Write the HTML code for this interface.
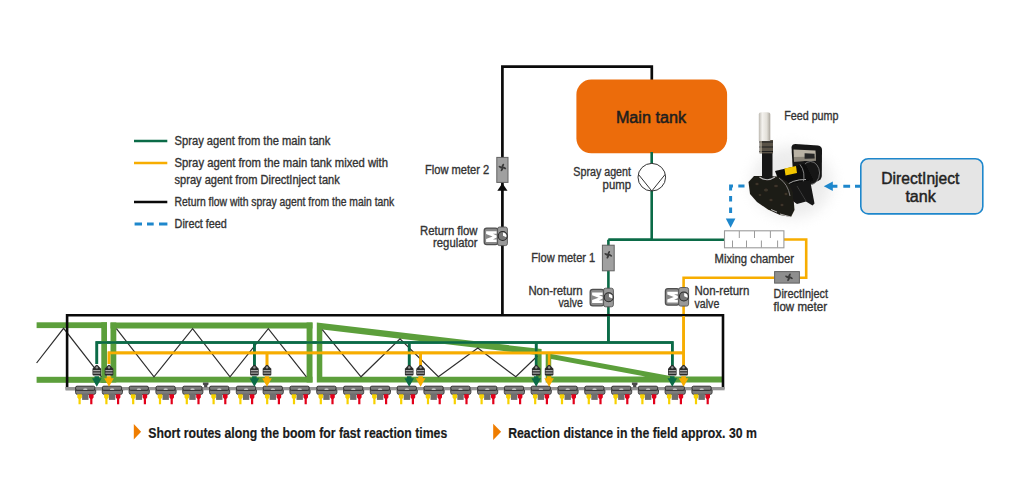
<!DOCTYPE html><html><head><meta charset="utf-8"><style>html,body{margin:0;padding:0;background:#fff;width:1024px;height:488px;overflow:hidden}svg{display:block}</style></head><body>
<svg width="1024" height="488" viewBox="0 0 1024 488" style="font-family:'Liberation Sans',sans-serif">
<defs><filter id="blur6" x="-50%" y="-50%" width="200%" height="200%"><feGaussianBlur stdDeviation="7"/></filter><filter id="blur1" x="-20%" y="-20%" width="140%" height="140%"><feGaussianBlur stdDeviation="0.6"/></filter><linearGradient id="tube" x1="0" x2="1"><stop offset="0" stop-color="#bcb8b0"/><stop offset="0.3" stop-color="#f4f2ee"/><stop offset="0.7" stop-color="#e2dfd8"/><stop offset="1" stop-color="#aaa59c"/></linearGradient></defs>
<line x1="134" y1="141" x2="167.3" y2="141" stroke="#0b6b47" stroke-width="2.6"/>
<line x1="134" y1="163" x2="167.3" y2="163" stroke="#f7ad00" stroke-width="2.6"/>
<line x1="134" y1="202" x2="167.3" y2="202" stroke="#0a0a0a" stroke-width="2.6"/>
<path d="M134.6 224 H142 M147 224 H153.7 M159 224 H167.4" stroke="#1e87cc" stroke-width="3"/>
<text x="174.60" y="145.3" font-size="12.1" font-weight="normal" fill="#333333" stroke="#333333" stroke-width="0.35" text-anchor="start" textLength="155.80" lengthAdjust="spacingAndGlyphs">Spray agent from the main tank</text>
<text x="174.60" y="167.2" font-size="12.1" font-weight="normal" fill="#333333" stroke="#333333" stroke-width="0.35" text-anchor="start" textLength="213.40" lengthAdjust="spacingAndGlyphs">Spray agent from the main tank mixed with</text>
<text x="174.60" y="184.1" font-size="12.1" font-weight="normal" fill="#333333" stroke="#333333" stroke-width="0.35" text-anchor="start" textLength="165.10" lengthAdjust="spacingAndGlyphs">spray agent from DirectInject tank</text>
<text x="174.60" y="206.3" font-size="12.1" font-weight="normal" fill="#333333" stroke="#333333" stroke-width="0.35" text-anchor="start" textLength="219.70" lengthAdjust="spacingAndGlyphs">Return flow with spray agent from the main tank</text>
<text x="174.60" y="228.2" font-size="12.1" font-weight="normal" fill="#333333" stroke="#333333" stroke-width="0.35" text-anchor="start" textLength="52.30" lengthAdjust="spacingAndGlyphs">Direct feed</text>
<path d="M502.4 316 V66.7 H651.8 V82" fill="none" stroke="#0a0a0a" stroke-width="2.7"/>
<rect x="496.8" y="157.4" width="11.2" height="25" fill="#a0a0a0" stroke="#626262" stroke-width="1"/><g transform="translate(502.40000000000003 167.5)" fill="#3a3a3a"><ellipse cx="1.9" cy="-0.6" rx="2.1" ry="0.95" transform="rotate(-60)"/><ellipse cx="1.9" cy="-0.6" rx="2.1" ry="0.95" transform="rotate(30)"/><ellipse cx="1.9" cy="-0.6" rx="2.1" ry="0.95" transform="rotate(120)"/><ellipse cx="1.9" cy="-0.6" rx="2.1" ry="0.95" transform="rotate(210)"/><circle r="0.9"/></g>
<path d="M502.4 183.2 L507.5 190.8 L497.3 190.8 Z" fill="#0a0a0a"/>
<g><rect x="484.2" y="228.10000000000002" width="13.8" height="16.6" rx="2.6" fill="#8a8a8a" stroke="#505050" stroke-width="1.3"/><path d="M486.09999999999997 231.20000000000002 H496.59999999999997 V233.70000000000002 H492.9 L496.59999999999997 235.60000000000002 V237.4 L492.9 239.4 H496.59999999999997 V241.9 H486.09999999999997 V238.9 L492.59999999999997 236.5 L486.09999999999997 234.10000000000002 Z" fill="#ffffff"/><rect x="497.59999999999997" y="227.0" width="9.8" height="18.6" rx="2" fill="#999" stroke="#555" stroke-width="0.9"/><circle cx="502.7" cy="236.0" r="4.5" fill="#777" stroke="#2a2a2a" stroke-width="1.1"/><path d="M503.0 235.8 L503.0 232.5 A3.6 3.6 0 0 1 506.29999999999995 237.3 Z" fill="#fff"/></g>
<text x="489.30" y="173.6" font-size="12.5" font-weight="normal" fill="#333333" stroke="#333333" stroke-width="0.35" text-anchor="end" textLength="64.30" lengthAdjust="spacingAndGlyphs">Flow meter 2</text>
<text x="477.60" y="234.5" font-size="12.5" font-weight="normal" fill="#333333" stroke="#333333" stroke-width="0.35" text-anchor="end" textLength="57.50" lengthAdjust="spacingAndGlyphs">Return flow</text>
<text x="477.60" y="246.8" font-size="12.5" font-weight="normal" fill="#333333" stroke="#333333" stroke-width="0.35" text-anchor="end" textLength="44.50" lengthAdjust="spacingAndGlyphs">regulator</text>
<rect x="576.4" y="79.5" width="150.7" height="73.8" rx="15" fill="#ec6c0b"/>
<text x="615.90" y="122.5" font-size="15.8" font-weight="normal" fill="#1e1e1e" stroke="#1e1e1e" stroke-width="0.5" text-anchor="start" textLength="70.10" lengthAdjust="spacingAndGlyphs">Main tank</text>
<path d="M651.7 152 V164 M651.7 190.5 V239.8 M608.4 239.8 H724.5 M608.4 239.8 V342.5 M96.8 364 V342.5 H672.3 V366 M254.4 342.5 V366 M409.2 342.5 V366 M536.2 342.5 V366" fill="none" stroke="#0b6b47" stroke-width="2.6"/>
<path d="M608.4 239.8 H651.7" fill="none" stroke="#0b6b47" stroke-width="2.6"/>
<circle cx="651.8" cy="177.2" r="13.8" fill="#fff" stroke="#333" stroke-width="1"/>
<path d="M638.6 174.6 L651.8 191 L665 174.6" fill="none" stroke="#333" stroke-width="1"/>
<text x="631.00" y="175.6" font-size="12.5" font-weight="normal" fill="#333333" stroke="#333333" stroke-width="0.35" text-anchor="end" textLength="57.70" lengthAdjust="spacingAndGlyphs">Spray agent</text>
<text x="631.00" y="188.5" font-size="12.5" font-weight="normal" fill="#333333" stroke="#333333" stroke-width="0.35" text-anchor="end" textLength="28.40" lengthAdjust="spacingAndGlyphs">pump</text>
<rect x="602.4" y="245.2" width="11.8" height="25.6" fill="#a0a0a0" stroke="#626262" stroke-width="1"/><g transform="translate(608.3 254.8)" fill="#3a3a3a"><ellipse cx="1.9" cy="-0.6" rx="2.1" ry="0.95" transform="rotate(-60)"/><ellipse cx="1.9" cy="-0.6" rx="2.1" ry="0.95" transform="rotate(30)"/><ellipse cx="1.9" cy="-0.6" rx="2.1" ry="0.95" transform="rotate(120)"/><ellipse cx="1.9" cy="-0.6" rx="2.1" ry="0.95" transform="rotate(210)"/><circle r="0.9"/></g>
<text x="595.20" y="262.3" font-size="12.5" font-weight="normal" fill="#333333" stroke="#333333" stroke-width="0.35" text-anchor="end" textLength="63.90" lengthAdjust="spacingAndGlyphs">Flow meter 1</text>
<g><rect x="590.1999999999999" y="289.3" width="13.8" height="16.6" rx="2.6" fill="#8a8a8a" stroke="#505050" stroke-width="1.3"/><path d="M592.1 292.4 H602.6 V294.9 H598.9 L602.6 296.8 V298.6 L598.9 300.6 H602.6 V303.1 H592.1 V300.1 L598.6 297.7 L592.1 295.3 Z" fill="#ffffff"/><rect x="603.6" y="288.2" width="9.8" height="18.6" rx="2" fill="#999" stroke="#555" stroke-width="0.9"/><circle cx="608.6999999999999" cy="297.2" r="4.5" fill="#777" stroke="#2a2a2a" stroke-width="1.1"/><path d="M609.0 297.0 L609.0 293.7 A3.6 3.6 0 0 1 612.3 298.5 Z" fill="#fff"/></g>
<text x="582.70" y="295.4" font-size="12.5" font-weight="normal" fill="#333333" stroke="#333333" stroke-width="0.35" text-anchor="end" textLength="54.30" lengthAdjust="spacingAndGlyphs">Non-return</text>
<text x="582.70" y="307.4" font-size="12.5" font-weight="normal" fill="#333333" stroke="#333333" stroke-width="0.35" text-anchor="end" textLength="24.30" lengthAdjust="spacingAndGlyphs">valve</text>
<path d="M784 239.5 H806.2 V277.7 H799.6 M774.2 277.7 H683.6 V366 M109 364 V352.9 H683.6 M267 352.9 V366 M420.6 352.9 V366 M549.1 352.9 V366" fill="none" stroke="#f7ad00" stroke-width="2.6"/>
<rect x="724.5" y="230.8" width="59.4" height="17" fill="#fff" stroke="#9a9a9a" stroke-width="1.1"/>
<path d="M739.3 231 V238 M754.5 231 V238 M770.4 231 V238 M732.5 247.6 V240.5 M746.5 247.6 V240.5 M761.4 247.6 V240.5 M777.6 247.6 V240.5" stroke="#9a9a9a" stroke-width="1"/>
<text x="714.50" y="262.9" font-size="12.5" font-weight="normal" fill="#333333" stroke="#333333" stroke-width="0.35" text-anchor="start" textLength="79.50" lengthAdjust="spacingAndGlyphs">Mixing chamber</text>
<rect x="774.6" y="271.6" width="24.8" height="11.5" fill="#8e8e8e" stroke="#626262" stroke-width="1"/><g transform="translate(789 277.35)" fill="#3a3a3a"><ellipse cx="1.9" cy="-0.6" rx="2.1" ry="0.95" transform="rotate(-60)"/><ellipse cx="1.9" cy="-0.6" rx="2.1" ry="0.95" transform="rotate(30)"/><ellipse cx="1.9" cy="-0.6" rx="2.1" ry="0.95" transform="rotate(120)"/><ellipse cx="1.9" cy="-0.6" rx="2.1" ry="0.95" transform="rotate(210)"/><circle r="0.9"/></g>
<text x="773.60" y="298.3" font-size="12.5" font-weight="normal" fill="#333333" stroke="#333333" stroke-width="0.35" text-anchor="start" textLength="54.40" lengthAdjust="spacingAndGlyphs">DirectInject</text>
<text x="773.60" y="310.8" font-size="12.5" font-weight="normal" fill="#333333" stroke="#333333" stroke-width="0.35" text-anchor="start" textLength="53.40" lengthAdjust="spacingAndGlyphs">flow meter</text>
<g><rect x="665.4" y="288.6" width="13.8" height="16.6" rx="2.6" fill="#8a8a8a" stroke="#505050" stroke-width="1.3"/><path d="M667.3000000000001 291.7 H677.8000000000001 V294.2 H674.1 L677.8000000000001 296.1 V297.90000000000003 L674.1 299.90000000000003 H677.8000000000001 V302.40000000000003 H667.3000000000001 V299.40000000000003 L673.8000000000001 297.0 L667.3000000000001 294.6 Z" fill="#ffffff"/><rect x="678.8000000000001" y="287.5" width="9.8" height="18.6" rx="2" fill="#999" stroke="#555" stroke-width="0.9"/><circle cx="683.9" cy="296.5" r="4.5" fill="#777" stroke="#2a2a2a" stroke-width="1.1"/><path d="M684.2 296.3 L684.2 293.0 A3.6 3.6 0 0 1 687.5 297.8 Z" fill="#fff"/></g>
<text x="694.50" y="294.7" font-size="12.5" font-weight="normal" fill="#333333" stroke="#333333" stroke-width="0.35" text-anchor="start" textLength="54.80" lengthAdjust="spacingAndGlyphs">Non-return</text>
<text x="694.50" y="307.9" font-size="12.5" font-weight="normal" fill="#333333" stroke="#333333" stroke-width="0.35" text-anchor="start" textLength="24.80" lengthAdjust="spacingAndGlyphs">valve</text>
<rect x="860.8" y="158.7" width="122" height="55.2" rx="7.5" fill="#e5e5e5" stroke="#1e87cc" stroke-width="1.6"/>
<text x="881.30" y="183.6" font-size="16.3" font-weight="normal" fill="#222" stroke="#222" stroke-width="0.45" text-anchor="start" textLength="78.10" lengthAdjust="spacingAndGlyphs">DirectInject</text>
<text x="905.40" y="202.1" font-size="16.3" font-weight="normal" fill="#222" stroke="#222" stroke-width="0.45" text-anchor="start" textLength="30.40" lengthAdjust="spacingAndGlyphs">tank</text>
<g>
<ellipse cx="792" cy="182" rx="40" ry="36" fill="#d0d0d0" filter="url(#blur6)" opacity="0.4"/>
<g filter="url(#blur1)">
<path d="M791.5 147 Q792 144 795.5 144 L818 145.5 Q822 146 822 150 L821.8 176 Q821.5 180 817 181.5 L806 183 L793 174 Z" fill="#161616"/>
<path d="M793.5 149.5 L815.5 150.5 L816 160.5 L794 161.5 Z" fill="#b9b2a4"/>
<path d="M794 157 L816 156.5 L816 160.5 L794 161.5 Z" fill="#8a8478"/>
<path d="M804.6 153.3 L814.6 153.8 L814.6 158.6 L804.6 158.8 Z" fill="#262626"/>
<ellipse cx="810.5" cy="173" rx="9" ry="11.5" fill="#121212" stroke="#8c8c8c" stroke-width="0.8"/>
<path d="M775 171 L805 164 L813 180 L782 190 Z" fill="#0c0c0c"/>
<path d="M784.5 168.6 L796 166 L797 173 L785.5 175.6 Z" fill="#f2c500"/>
<path d="M783 188 Q792 179 806 179.5" fill="none" stroke="#a8a8a8" stroke-width="1"/>
<path d="M800 164.5 Q806 172 803 184" fill="none" stroke="#909090" stroke-width="0.9"/>
<path d="M789 184 L810 180 L814.5 203.5 L812.5 205.5 L806 201.5 L797 204 L790 199 Z" fill="#141414"/>
<path d="M797 186 L806 201" stroke="#3a3a3a" stroke-width="1"/>
<path d="M748.5 182 L754 176 L766 176 L778 176.5 L788 182 L793 192 L794.5 210 L791 217 L780 215 L768 209.5 L757 202 L750 194 Z" fill="#1f1b15"/>
<g fill="#3d362b"><ellipse cx="757" cy="184" rx="1.6" ry="1.2"/><ellipse cx="766" cy="190" rx="2" ry="1.5"/><ellipse cx="776" cy="186" rx="1.8" ry="1.3"/><ellipse cx="771" cy="200" rx="1.6" ry="1.2"/><ellipse cx="782" cy="205" rx="1.5" ry="1.2"/><ellipse cx="786" cy="194" rx="1.4" ry="1.2"/><ellipse cx="760" cy="195" rx="1.4" ry="1.1"/></g>
<path d="M780 214 L791 217 M771 209.5 L777 212" stroke="#e0e0e0" stroke-width="0.8"/>
<path d="M779 178 Q788 184 790 196" fill="none" stroke="#8a8a8a" stroke-width="0.9"/>
<rect x="762" y="152" width="10.5" height="28" fill="#131313"/>
<path d="M759.5 177 Q767 182.5 775 177" fill="none" stroke="#b8b8b8" stroke-width="1.2"/>
<path d="M759.5 140 H773 V153.4 H759.5 Z" fill="#5a5346"/>
<path d="M759.5 142 H773 M759.5 147 H773 M759.5 151.5 H773" stroke="#1c1c1c" stroke-width="1"/>
<path d="M761 141 V153" stroke="#d8d0bc" stroke-width="1"/>
<path d="M758.8 141 V114.5 Q758.8 112.2 762 112.2 H767 Q770.3 112.2 770.3 114.5 V141 Z" fill="url(#tube)"/>
</g></g>
<path d="M832 186.2 H837.4 M843.3 186.2 H850.1 M855 186.2 H861" stroke="#1e87cc" stroke-width="3"/>
<path d="M823.8 186.2 L832.8 181.5 L832.8 190.9 Z" fill="#1e87cc"/>
<path d="M744.5 186.1 H738.3 M733 186.1 H730.6 V190.5 M730.6 195.9 V201.4 M730.6 207.6 V213" fill="none" stroke="#1e87cc" stroke-width="3"/>
<path d="M725.8 218.6 L735.4 218.6 L730.6 227.8 Z" fill="#1e87cc"/>
<text x="784.20" y="120" font-size="12.5" font-weight="normal" fill="#333333" stroke="#333333" stroke-width="0.35" text-anchor="start" textLength="54.30" lengthAdjust="spacingAndGlyphs">Feed pump</text>
<g fill="#5c9f3b">
<rect x="36.6" y="322.3" width="70.4" height="5.8"/><rect x="101.3" y="322.3" width="5.7" height="60.6"/><rect x="36.6" y="376.8" width="70.4" height="6"/>
<rect x="110.5" y="322.5" width="202" height="6"/><rect x="110.5" y="322.5" width="5.8" height="60"/><rect x="306.6" y="322.5" width="5.9" height="60"/><rect x="110.5" y="376.7" width="202" height="5.8"/>
<path d="M316.8 322.6 L541.6 349.1 L541.6 382.5 L316.8 382.5 Z M322.3 329.6 L536 354.8 L536 376.8 L322.3 376.8 Z" fill-rule="evenodd"/>
<path d="M545.7 353 L673 376.6 L723 376.6 L723 382.5 L545.7 382.5 Z M551.2 359.1 L645.3 376.6 L551.2 376.6 Z" fill-rule="evenodd"/>
</g>
<path d="M36.6 363 L63.6 328.3 L101.5 376.8 M116.4 328.7 L154 376.8 L192.6 328.7 L230 376.8 L268.3 328.7 L306.4 376.8 M322.3 329.6 L361 376.8 L400 338.8 L438.4 376.8 L477.8 348 L515.8 376.8 L537.4 356" fill="none" stroke="#2e2e2e" stroke-width="1.2"/>
<path d="M67.1 388.5 V315.3 H723 V389" fill="none" stroke="#0a0a0a" stroke-width="2.6"/>
<rect x="65.6" y="387" width="59" height="3.3" fill="#8a8a8a"/>
<rect x="65.6" y="387" width="659" height="3.3" fill="#969696"/>
<path d="M202.9 382.6 H208.5 V384.6 L207.3 385.6 V387.3 H204.1 V385.6 L202.9 384.6 Z" fill="#4a4a4a"/>
<path d="M631.9 382.6 H637.5 V384.6 L636.3 385.6 V387.3 H633.1 V385.6 L631.9 384.6 Z" fill="#4a4a4a"/>
<g><path d="M75.5 390 V392.5 Q75.5 394.4 77.5 394.4 H93.7 Q95.7 394.4 95.7 392.5 V390 Z" fill="#7c7c7c" stroke="#3a3a3a" stroke-width="0.9"/><rect x="82.10000000000001" y="394" width="6.4" height="5.9" fill="#6e6e6e"/><rect x="75.60000000000001" y="386.2" width="19.2" height="4.1" rx="1.4" fill="#7a7a7a" stroke="#2e2e2e" stroke-width="1"/><ellipse cx="85.3" cy="389.2" rx="2.2" ry="0.6" fill="#e0e0e0"/><path d="M77.3 394.3 H81.9 V397.5 L80.7 399 V404.3 H78.5 V399 L77.3 397.5 Z" fill="#f7d100"/><path d="M89.0 394.3 H93.6 V397.5 L92.4 399 V404.3 H90.2 V399 L89.0 397.5 Z" fill="#e2001a"/></g>
<g><path d="M102.3 390 V392.5 Q102.3 394.4 104.3 394.4 H120.5 Q122.5 394.4 122.5 392.5 V390 Z" fill="#7c7c7c" stroke="#3a3a3a" stroke-width="0.9"/><rect x="108.9" y="394" width="6.4" height="5.9" fill="#6e6e6e"/><rect x="102.4" y="386.2" width="19.2" height="4.1" rx="1.4" fill="#7a7a7a" stroke="#2e2e2e" stroke-width="1"/><ellipse cx="112.1" cy="389.2" rx="2.2" ry="0.6" fill="#e0e0e0"/><path d="M104.1 394.3 H108.7 V397.5 L107.5 399 V404.3 H105.3 V399 L104.1 397.5 Z" fill="#f7d100"/><path d="M115.8 394.3 H120.4 V397.5 L119.2 399 V404.3 H117.0 V399 L115.8 397.5 Z" fill="#e2001a"/></g>
<g><path d="M129.10000000000002 390 V392.5 Q129.10000000000002 394.4 131.10000000000002 394.4 H147.3 Q149.3 394.4 149.3 392.5 V390 Z" fill="#7c7c7c" stroke="#3a3a3a" stroke-width="0.9"/><rect x="135.70000000000002" y="394" width="6.4" height="5.9" fill="#6e6e6e"/><rect x="129.20000000000002" y="386.2" width="19.2" height="4.1" rx="1.4" fill="#7a7a7a" stroke="#2e2e2e" stroke-width="1"/><ellipse cx="138.9" cy="389.2" rx="2.2" ry="0.6" fill="#e0e0e0"/><path d="M130.9 394.3 H135.5 V397.5 L134.3 399 V404.3 H132.10000000000002 V399 L130.9 397.5 Z" fill="#f7d100"/><path d="M142.60000000000002 394.3 H147.20000000000002 V397.5 L146.0 399 V404.3 H143.8 V399 L142.60000000000002 397.5 Z" fill="#e2001a"/></g>
<g><path d="M155.9 390 V392.5 Q155.9 394.4 157.9 394.4 H174.1 Q176.1 394.4 176.1 392.5 V390 Z" fill="#7c7c7c" stroke="#3a3a3a" stroke-width="0.9"/><rect x="162.5" y="394" width="6.4" height="5.9" fill="#6e6e6e"/><rect x="156.0" y="386.2" width="19.2" height="4.1" rx="1.4" fill="#7a7a7a" stroke="#2e2e2e" stroke-width="1"/><ellipse cx="165.7" cy="389.2" rx="2.2" ry="0.6" fill="#e0e0e0"/><path d="M157.7 394.3 H162.29999999999998 V397.5 L161.1 399 V404.3 H158.9 V399 L157.7 397.5 Z" fill="#f7d100"/><path d="M169.4 394.3 H174.0 V397.5 L172.79999999999998 399 V404.3 H170.6 V399 L169.4 397.5 Z" fill="#e2001a"/></g>
<g><path d="M182.70000000000002 390 V392.5 Q182.70000000000002 394.4 184.70000000000002 394.4 H200.9 Q202.9 394.4 202.9 392.5 V390 Z" fill="#7c7c7c" stroke="#3a3a3a" stroke-width="0.9"/><rect x="189.3" y="394" width="6.4" height="5.9" fill="#6e6e6e"/><rect x="182.8" y="386.2" width="19.2" height="4.1" rx="1.4" fill="#7a7a7a" stroke="#2e2e2e" stroke-width="1"/><ellipse cx="192.5" cy="389.2" rx="2.2" ry="0.6" fill="#e0e0e0"/><path d="M184.5 394.3 H189.1 V397.5 L187.9 399 V404.3 H185.70000000000002 V399 L184.5 397.5 Z" fill="#f7d100"/><path d="M196.20000000000002 394.3 H200.8 V397.5 L199.6 399 V404.3 H197.4 V399 L196.20000000000002 397.5 Z" fill="#e2001a"/></g>
<g><path d="M209.5 390 V392.5 Q209.5 394.4 211.5 394.4 H227.7 Q229.7 394.4 229.7 392.5 V390 Z" fill="#7c7c7c" stroke="#3a3a3a" stroke-width="0.9"/><rect x="216.1" y="394" width="6.4" height="5.9" fill="#6e6e6e"/><rect x="209.6" y="386.2" width="19.2" height="4.1" rx="1.4" fill="#7a7a7a" stroke="#2e2e2e" stroke-width="1"/><ellipse cx="219.29999999999998" cy="389.2" rx="2.2" ry="0.6" fill="#e0e0e0"/><path d="M211.29999999999998 394.3 H215.89999999999998 V397.5 L214.7 399 V404.3 H212.5 V399 L211.29999999999998 397.5 Z" fill="#f7d100"/><path d="M223.0 394.3 H227.6 V397.5 L226.39999999999998 399 V404.3 H224.2 V399 L223.0 397.5 Z" fill="#e2001a"/></g>
<g><path d="M236.3 390 V392.5 Q236.3 394.4 238.3 394.4 H254.5 Q256.5 394.4 256.5 392.5 V390 Z" fill="#7c7c7c" stroke="#3a3a3a" stroke-width="0.9"/><rect x="242.9" y="394" width="6.4" height="5.9" fill="#6e6e6e"/><rect x="236.4" y="386.2" width="19.2" height="4.1" rx="1.4" fill="#7a7a7a" stroke="#2e2e2e" stroke-width="1"/><ellipse cx="246.1" cy="389.2" rx="2.2" ry="0.6" fill="#e0e0e0"/><path d="M238.1 394.3 H242.7 V397.5 L241.5 399 V404.3 H239.3 V399 L238.1 397.5 Z" fill="#f7d100"/><path d="M249.8 394.3 H254.4 V397.5 L253.2 399 V404.3 H251.0 V399 L249.8 397.5 Z" fill="#e2001a"/></g>
<g><path d="M263.1 390 V392.5 Q263.1 394.4 265.1 394.4 H281.3 Q283.3 394.4 283.3 392.5 V390 Z" fill="#7c7c7c" stroke="#3a3a3a" stroke-width="0.9"/><rect x="269.7" y="394" width="6.4" height="5.9" fill="#6e6e6e"/><rect x="263.2" y="386.2" width="19.2" height="4.1" rx="1.4" fill="#7a7a7a" stroke="#2e2e2e" stroke-width="1"/><ellipse cx="272.90000000000003" cy="389.2" rx="2.2" ry="0.6" fill="#e0e0e0"/><path d="M264.90000000000003 394.3 H269.5 V397.5 L268.3 399 V404.3 H266.1 V399 L264.90000000000003 397.5 Z" fill="#f7d100"/><path d="M276.6 394.3 H281.2 V397.5 L280.0 399 V404.3 H277.8 V399 L276.6 397.5 Z" fill="#e2001a"/></g>
<g><path d="M289.90000000000003 390 V392.5 Q289.90000000000003 394.4 291.90000000000003 394.4 H308.1 Q310.1 394.4 310.1 392.5 V390 Z" fill="#7c7c7c" stroke="#3a3a3a" stroke-width="0.9"/><rect x="296.5" y="394" width="6.4" height="5.9" fill="#6e6e6e"/><rect x="290.0" y="386.2" width="19.2" height="4.1" rx="1.4" fill="#7a7a7a" stroke="#2e2e2e" stroke-width="1"/><ellipse cx="299.70000000000005" cy="389.2" rx="2.2" ry="0.6" fill="#e0e0e0"/><path d="M291.70000000000005 394.3 H296.3 V397.5 L295.1 399 V404.3 H292.90000000000003 V399 L291.70000000000005 397.5 Z" fill="#f7d100"/><path d="M303.40000000000003 394.3 H308.0 V397.5 L306.8 399 V404.3 H304.6 V399 L303.40000000000003 397.5 Z" fill="#e2001a"/></g>
<g><path d="M316.7 390 V392.5 Q316.7 394.4 318.7 394.4 H334.9 Q336.9 394.4 336.9 392.5 V390 Z" fill="#7c7c7c" stroke="#3a3a3a" stroke-width="0.9"/><rect x="323.29999999999995" y="394" width="6.4" height="5.9" fill="#6e6e6e"/><rect x="316.79999999999995" y="386.2" width="19.2" height="4.1" rx="1.4" fill="#7a7a7a" stroke="#2e2e2e" stroke-width="1"/><ellipse cx="326.5" cy="389.2" rx="2.2" ry="0.6" fill="#e0e0e0"/><path d="M318.5 394.3 H323.09999999999997 V397.5 L321.9 399 V404.3 H319.7 V399 L318.5 397.5 Z" fill="#f7d100"/><path d="M330.2 394.3 H334.79999999999995 V397.5 L333.59999999999997 399 V404.3 H331.4 V399 L330.2 397.5 Z" fill="#e2001a"/></g>
<g><path d="M343.5 390 V392.5 Q343.5 394.4 345.5 394.4 H361.7 Q363.7 394.4 363.7 392.5 V390 Z" fill="#7c7c7c" stroke="#3a3a3a" stroke-width="0.9"/><rect x="350.09999999999997" y="394" width="6.4" height="5.9" fill="#6e6e6e"/><rect x="343.59999999999997" y="386.2" width="19.2" height="4.1" rx="1.4" fill="#7a7a7a" stroke="#2e2e2e" stroke-width="1"/><ellipse cx="353.3" cy="389.2" rx="2.2" ry="0.6" fill="#e0e0e0"/><path d="M345.3 394.3 H349.9 V397.5 L348.7 399 V404.3 H346.5 V399 L345.3 397.5 Z" fill="#f7d100"/><path d="M357.0 394.3 H361.59999999999997 V397.5 L360.4 399 V404.3 H358.2 V399 L357.0 397.5 Z" fill="#e2001a"/></g>
<g><path d="M370.3 390 V392.5 Q370.3 394.4 372.3 394.4 H388.5 Q390.5 394.4 390.5 392.5 V390 Z" fill="#7c7c7c" stroke="#3a3a3a" stroke-width="0.9"/><rect x="376.9" y="394" width="6.4" height="5.9" fill="#6e6e6e"/><rect x="370.4" y="386.2" width="19.2" height="4.1" rx="1.4" fill="#7a7a7a" stroke="#2e2e2e" stroke-width="1"/><ellipse cx="380.1" cy="389.2" rx="2.2" ry="0.6" fill="#e0e0e0"/><path d="M372.1 394.3 H376.7 V397.5 L375.5 399 V404.3 H373.3 V399 L372.1 397.5 Z" fill="#f7d100"/><path d="M383.8 394.3 H388.4 V397.5 L387.2 399 V404.3 H385.0 V399 L383.8 397.5 Z" fill="#e2001a"/></g>
<g><path d="M397.1 390 V392.5 Q397.1 394.4 399.1 394.4 H415.3 Q417.3 394.4 417.3 392.5 V390 Z" fill="#7c7c7c" stroke="#3a3a3a" stroke-width="0.9"/><rect x="403.7" y="394" width="6.4" height="5.9" fill="#6e6e6e"/><rect x="397.2" y="386.2" width="19.2" height="4.1" rx="1.4" fill="#7a7a7a" stroke="#2e2e2e" stroke-width="1"/><ellipse cx="406.90000000000003" cy="389.2" rx="2.2" ry="0.6" fill="#e0e0e0"/><path d="M398.90000000000003 394.3 H403.5 V397.5 L402.3 399 V404.3 H400.1 V399 L398.90000000000003 397.5 Z" fill="#f7d100"/><path d="M410.6 394.3 H415.2 V397.5 L414.0 399 V404.3 H411.8 V399 L410.6 397.5 Z" fill="#e2001a"/></g>
<g><path d="M423.90000000000003 390 V392.5 Q423.90000000000003 394.4 425.90000000000003 394.4 H442.1 Q444.1 394.4 444.1 392.5 V390 Z" fill="#7c7c7c" stroke="#3a3a3a" stroke-width="0.9"/><rect x="430.5" y="394" width="6.4" height="5.9" fill="#6e6e6e"/><rect x="424.0" y="386.2" width="19.2" height="4.1" rx="1.4" fill="#7a7a7a" stroke="#2e2e2e" stroke-width="1"/><ellipse cx="433.70000000000005" cy="389.2" rx="2.2" ry="0.6" fill="#e0e0e0"/><path d="M425.70000000000005 394.3 H430.3 V397.5 L429.1 399 V404.3 H426.90000000000003 V399 L425.70000000000005 397.5 Z" fill="#f7d100"/><path d="M437.40000000000003 394.3 H442.0 V397.5 L440.8 399 V404.3 H438.6 V399 L437.40000000000003 397.5 Z" fill="#e2001a"/></g>
<g><path d="M450.7 390 V392.5 Q450.7 394.4 452.7 394.4 H468.9 Q470.9 394.4 470.9 392.5 V390 Z" fill="#7c7c7c" stroke="#3a3a3a" stroke-width="0.9"/><rect x="457.29999999999995" y="394" width="6.4" height="5.9" fill="#6e6e6e"/><rect x="450.79999999999995" y="386.2" width="19.2" height="4.1" rx="1.4" fill="#7a7a7a" stroke="#2e2e2e" stroke-width="1"/><ellipse cx="460.5" cy="389.2" rx="2.2" ry="0.6" fill="#e0e0e0"/><path d="M452.5 394.3 H457.09999999999997 V397.5 L455.9 399 V404.3 H453.7 V399 L452.5 397.5 Z" fill="#f7d100"/><path d="M464.2 394.3 H468.79999999999995 V397.5 L467.59999999999997 399 V404.3 H465.4 V399 L464.2 397.5 Z" fill="#e2001a"/></g>
<g><path d="M477.5 390 V392.5 Q477.5 394.4 479.5 394.4 H495.7 Q497.7 394.4 497.7 392.5 V390 Z" fill="#7c7c7c" stroke="#3a3a3a" stroke-width="0.9"/><rect x="484.09999999999997" y="394" width="6.4" height="5.9" fill="#6e6e6e"/><rect x="477.59999999999997" y="386.2" width="19.2" height="4.1" rx="1.4" fill="#7a7a7a" stroke="#2e2e2e" stroke-width="1"/><ellipse cx="487.3" cy="389.2" rx="2.2" ry="0.6" fill="#e0e0e0"/><path d="M479.3 394.3 H483.9 V397.5 L482.7 399 V404.3 H480.5 V399 L479.3 397.5 Z" fill="#f7d100"/><path d="M491.0 394.3 H495.59999999999997 V397.5 L494.4 399 V404.3 H492.2 V399 L491.0 397.5 Z" fill="#e2001a"/></g>
<g><path d="M504.3 390 V392.5 Q504.3 394.4 506.3 394.4 H522.5 Q524.5 394.4 524.5 392.5 V390 Z" fill="#7c7c7c" stroke="#3a3a3a" stroke-width="0.9"/><rect x="510.9" y="394" width="6.4" height="5.9" fill="#6e6e6e"/><rect x="504.4" y="386.2" width="19.2" height="4.1" rx="1.4" fill="#7a7a7a" stroke="#2e2e2e" stroke-width="1"/><ellipse cx="514.1" cy="389.2" rx="2.2" ry="0.6" fill="#e0e0e0"/><path d="M506.1 394.3 H510.7 V397.5 L509.5 399 V404.3 H507.3 V399 L506.1 397.5 Z" fill="#f7d100"/><path d="M517.8 394.3 H522.4 V397.5 L521.2 399 V404.3 H519.0 V399 L517.8 397.5 Z" fill="#e2001a"/></g>
<g><path d="M531.0999999999999 390 V392.5 Q531.0999999999999 394.4 533.0999999999999 394.4 H549.3 Q551.3 394.4 551.3 392.5 V390 Z" fill="#7c7c7c" stroke="#3a3a3a" stroke-width="0.9"/><rect x="537.6999999999999" y="394" width="6.4" height="5.9" fill="#6e6e6e"/><rect x="531.1999999999999" y="386.2" width="19.2" height="4.1" rx="1.4" fill="#7a7a7a" stroke="#2e2e2e" stroke-width="1"/><ellipse cx="540.9" cy="389.2" rx="2.2" ry="0.6" fill="#e0e0e0"/><path d="M532.9 394.3 H537.5 V397.5 L536.3 399 V404.3 H534.0999999999999 V399 L532.9 397.5 Z" fill="#f7d100"/><path d="M544.5999999999999 394.3 H549.1999999999999 V397.5 L548.0 399 V404.3 H545.8 V399 L544.5999999999999 397.5 Z" fill="#e2001a"/></g>
<g><path d="M557.9 390 V392.5 Q557.9 394.4 559.9 394.4 H576.1 Q578.1 394.4 578.1 392.5 V390 Z" fill="#7c7c7c" stroke="#3a3a3a" stroke-width="0.9"/><rect x="564.5" y="394" width="6.4" height="5.9" fill="#6e6e6e"/><rect x="558.0" y="386.2" width="19.2" height="4.1" rx="1.4" fill="#7a7a7a" stroke="#2e2e2e" stroke-width="1"/><ellipse cx="567.7" cy="389.2" rx="2.2" ry="0.6" fill="#e0e0e0"/><path d="M559.7 394.3 H564.3000000000001 V397.5 L563.1 399 V404.3 H560.9 V399 L559.7 397.5 Z" fill="#f7d100"/><path d="M571.4 394.3 H576.0 V397.5 L574.8000000000001 399 V404.3 H572.6 V399 L571.4 397.5 Z" fill="#e2001a"/></g>
<g><path d="M584.6999999999999 390 V392.5 Q584.6999999999999 394.4 586.6999999999999 394.4 H602.9 Q604.9 394.4 604.9 392.5 V390 Z" fill="#7c7c7c" stroke="#3a3a3a" stroke-width="0.9"/><rect x="591.3" y="394" width="6.4" height="5.9" fill="#6e6e6e"/><rect x="584.8" y="386.2" width="19.2" height="4.1" rx="1.4" fill="#7a7a7a" stroke="#2e2e2e" stroke-width="1"/><ellipse cx="594.5" cy="389.2" rx="2.2" ry="0.6" fill="#e0e0e0"/><path d="M586.5 394.3 H591.1 V397.5 L589.9 399 V404.3 H587.6999999999999 V399 L586.5 397.5 Z" fill="#f7d100"/><path d="M598.1999999999999 394.3 H602.8 V397.5 L601.6 399 V404.3 H599.4 V399 L598.1999999999999 397.5 Z" fill="#e2001a"/></g>
<g><path d="M611.5 390 V392.5 Q611.5 394.4 613.5 394.4 H629.7 Q631.7 394.4 631.7 392.5 V390 Z" fill="#7c7c7c" stroke="#3a3a3a" stroke-width="0.9"/><rect x="618.1" y="394" width="6.4" height="5.9" fill="#6e6e6e"/><rect x="611.6" y="386.2" width="19.2" height="4.1" rx="1.4" fill="#7a7a7a" stroke="#2e2e2e" stroke-width="1"/><ellipse cx="621.3000000000001" cy="389.2" rx="2.2" ry="0.6" fill="#e0e0e0"/><path d="M613.3000000000001 394.3 H617.9000000000001 V397.5 L616.7 399 V404.3 H614.5 V399 L613.3000000000001 397.5 Z" fill="#f7d100"/><path d="M625.0 394.3 H629.6 V397.5 L628.4000000000001 399 V404.3 H626.2 V399 L625.0 397.5 Z" fill="#e2001a"/></g>
<g><path d="M638.3 390 V392.5 Q638.3 394.4 640.3 394.4 H656.5 Q658.5 394.4 658.5 392.5 V390 Z" fill="#7c7c7c" stroke="#3a3a3a" stroke-width="0.9"/><rect x="644.9" y="394" width="6.4" height="5.9" fill="#6e6e6e"/><rect x="638.4" y="386.2" width="19.2" height="4.1" rx="1.4" fill="#7a7a7a" stroke="#2e2e2e" stroke-width="1"/><ellipse cx="648.1" cy="389.2" rx="2.2" ry="0.6" fill="#e0e0e0"/><path d="M640.1 394.3 H644.7 V397.5 L643.5 399 V404.3 H641.3 V399 L640.1 397.5 Z" fill="#f7d100"/><path d="M651.8 394.3 H656.4 V397.5 L655.2 399 V404.3 H653.0 V399 L651.8 397.5 Z" fill="#e2001a"/></g>
<g><path d="M665.0999999999999 390 V392.5 Q665.0999999999999 394.4 667.0999999999999 394.4 H683.3 Q685.3 394.4 685.3 392.5 V390 Z" fill="#7c7c7c" stroke="#3a3a3a" stroke-width="0.9"/><rect x="671.6999999999999" y="394" width="6.4" height="5.9" fill="#6e6e6e"/><rect x="665.1999999999999" y="386.2" width="19.2" height="4.1" rx="1.4" fill="#7a7a7a" stroke="#2e2e2e" stroke-width="1"/><ellipse cx="674.9" cy="389.2" rx="2.2" ry="0.6" fill="#e0e0e0"/><path d="M666.9 394.3 H671.5 V397.5 L670.3 399 V404.3 H668.0999999999999 V399 L666.9 397.5 Z" fill="#f7d100"/><path d="M678.5999999999999 394.3 H683.1999999999999 V397.5 L682.0 399 V404.3 H679.8 V399 L678.5999999999999 397.5 Z" fill="#e2001a"/></g>
<g><path d="M691.9 390 V392.5 Q691.9 394.4 693.9 394.4 H710.1 Q712.1 394.4 712.1 392.5 V390 Z" fill="#7c7c7c" stroke="#3a3a3a" stroke-width="0.9"/><rect x="698.5" y="394" width="6.4" height="5.9" fill="#6e6e6e"/><rect x="692.0" y="386.2" width="19.2" height="4.1" rx="1.4" fill="#7a7a7a" stroke="#2e2e2e" stroke-width="1"/><ellipse cx="701.7" cy="389.2" rx="2.2" ry="0.6" fill="#e0e0e0"/><path d="M693.7 394.3 H698.3000000000001 V397.5 L697.1 399 V404.3 H694.9 V399 L693.7 397.5 Z" fill="#f7d100"/><path d="M705.4 394.3 H710.0 V397.5 L708.8000000000001 399 V404.3 H706.6 V399 L705.4 397.5 Z" fill="#e2001a"/></g>
<path d="M96.8 364 V342.5 H672.3 V366 M254.4 342.5 V366 M409.2 342.5 V366 M536.2 342.5 V366 M608.4 316 V342.5" fill="none" stroke="#0b6b47" stroke-width="2.6"/>
<path d="M109 364 V352.9 H683.6 M683.6 316 V366 M267 352.9 V366 M420.6 352.9 V366 M549.1 352.9 V366" fill="none" stroke="#f7ad00" stroke-width="2.6"/>
<path d="M92.5 368.8 L95.8 365.20000000000005 Q96.8 364.40000000000003 97.8 365.20000000000005 L101.1 368.8 L101.1 374.5 Q101.1 375.5 100.1 375.5 L93.5 375.5 Q92.5 375.5 92.5 374.5 Z" fill="#2a2a2a"/><circle cx="96.8" cy="367.40000000000003" r="1.2" fill="#9a9a9a"/><path d="M93.2 370.70000000000005 H100.39999999999999 M93.2 373.1 H100.39999999999999" stroke="#d8d8d8" stroke-width="0.9"/><path d="M94.5 376.3 H99.1 V378.3 H101.6 L96.8 386.8 L92.0 378.3 H94.5 Z" fill="#0b6b47"/>
<path d="M250.1 368.8 L253.4 365.20000000000005 Q254.4 364.40000000000003 255.4 365.20000000000005 L258.7 368.8 L258.7 374.5 Q258.7 375.5 257.7 375.5 L251.1 375.5 Q250.1 375.5 250.1 374.5 Z" fill="#2a2a2a"/><circle cx="254.4" cy="367.40000000000003" r="1.2" fill="#9a9a9a"/><path d="M250.8 370.70000000000005 H258.0 M250.8 373.1 H258.0" stroke="#d8d8d8" stroke-width="0.9"/><path d="M252.1 376.3 H256.7 V378.3 H259.2 L254.4 386.8 L249.6 378.3 H252.1 Z" fill="#0b6b47"/>
<path d="M404.9 368.8 L408.2 365.20000000000005 Q409.2 364.40000000000003 410.2 365.20000000000005 L413.5 368.8 L413.5 374.5 Q413.5 375.5 412.5 375.5 L405.9 375.5 Q404.9 375.5 404.9 374.5 Z" fill="#2a2a2a"/><circle cx="409.2" cy="367.40000000000003" r="1.2" fill="#9a9a9a"/><path d="M405.59999999999997 370.70000000000005 H412.8 M405.59999999999997 373.1 H412.8" stroke="#d8d8d8" stroke-width="0.9"/><path d="M406.9 376.3 H411.5 V378.3 H414.0 L409.2 386.8 L404.4 378.3 H406.9 Z" fill="#0b6b47"/>
<path d="M531.9000000000001 368.8 L535.2 365.20000000000005 Q536.2 364.40000000000003 537.2 365.20000000000005 L540.5 368.8 L540.5 374.5 Q540.5 375.5 539.5 375.5 L532.9000000000001 375.5 Q531.9000000000001 375.5 531.9000000000001 374.5 Z" fill="#2a2a2a"/><circle cx="536.2" cy="367.40000000000003" r="1.2" fill="#9a9a9a"/><path d="M532.6 370.70000000000005 H539.8000000000001 M532.6 373.1 H539.8000000000001" stroke="#d8d8d8" stroke-width="0.9"/><path d="M533.9000000000001 376.3 H538.5 V378.3 H541.0 L536.2 386.8 L531.4000000000001 378.3 H533.9000000000001 Z" fill="#0b6b47"/>
<path d="M668.0 368.8 L671.3 365.20000000000005 Q672.3 364.40000000000003 673.3 365.20000000000005 L676.5999999999999 368.8 L676.5999999999999 374.5 Q676.5999999999999 375.5 675.5999999999999 375.5 L669.0 375.5 Q668.0 375.5 668.0 374.5 Z" fill="#2a2a2a"/><circle cx="672.3" cy="367.40000000000003" r="1.2" fill="#9a9a9a"/><path d="M668.6999999999999 370.70000000000005 H675.9 M668.6999999999999 373.1 H675.9" stroke="#d8d8d8" stroke-width="0.9"/><path d="M670.0 376.3 H674.5999999999999 V378.3 H677.0999999999999 L672.3 386.8 L667.5 378.3 H670.0 Z" fill="#0b6b47"/>
<path d="M104.7 368.8 L108 365.20000000000005 Q109 364.40000000000003 110 365.20000000000005 L113.3 368.8 L113.3 374.5 Q113.3 375.5 112.3 375.5 L105.7 375.5 Q104.7 375.5 104.7 374.5 Z" fill="#2a2a2a"/><circle cx="109" cy="367.40000000000003" r="1.2" fill="#9a9a9a"/><path d="M105.4 370.70000000000005 H112.6 M105.4 373.1 H112.6" stroke="#d8d8d8" stroke-width="0.9"/><path d="M106.7 376.3 H111.3 V378.3 H113.8 L109 386.8 L104.2 378.3 H106.7 Z" fill="#f7ad00"/>
<path d="M262.7 368.8 L266 365.20000000000005 Q267 364.40000000000003 268 365.20000000000005 L271.3 368.8 L271.3 374.5 Q271.3 375.5 270.3 375.5 L263.7 375.5 Q262.7 375.5 262.7 374.5 Z" fill="#2a2a2a"/><circle cx="267" cy="367.40000000000003" r="1.2" fill="#9a9a9a"/><path d="M263.4 370.70000000000005 H270.6 M263.4 373.1 H270.6" stroke="#d8d8d8" stroke-width="0.9"/><path d="M264.7 376.3 H269.3 V378.3 H271.8 L267 386.8 L262.2 378.3 H264.7 Z" fill="#f7ad00"/>
<path d="M416.3 368.8 L419.6 365.20000000000005 Q420.6 364.40000000000003 421.6 365.20000000000005 L424.90000000000003 368.8 L424.90000000000003 374.5 Q424.90000000000003 375.5 423.90000000000003 375.5 L417.3 375.5 Q416.3 375.5 416.3 374.5 Z" fill="#2a2a2a"/><circle cx="420.6" cy="367.40000000000003" r="1.2" fill="#9a9a9a"/><path d="M417.0 370.70000000000005 H424.20000000000005 M417.0 373.1 H424.20000000000005" stroke="#d8d8d8" stroke-width="0.9"/><path d="M418.3 376.3 H422.90000000000003 V378.3 H425.40000000000003 L420.6 386.8 L415.8 378.3 H418.3 Z" fill="#f7ad00"/>
<path d="M544.8000000000001 368.8 L548.1 365.20000000000005 Q549.1 364.40000000000003 550.1 365.20000000000005 L553.4 368.8 L553.4 374.5 Q553.4 375.5 552.4 375.5 L545.8000000000001 375.5 Q544.8000000000001 375.5 544.8000000000001 374.5 Z" fill="#2a2a2a"/><circle cx="549.1" cy="367.40000000000003" r="1.2" fill="#9a9a9a"/><path d="M545.5 370.70000000000005 H552.7 M545.5 373.1 H552.7" stroke="#d8d8d8" stroke-width="0.9"/><path d="M546.8000000000001 376.3 H551.4 V378.3 H553.9 L549.1 386.8 L544.3000000000001 378.3 H546.8000000000001 Z" fill="#f7ad00"/>
<path d="M679.3000000000001 368.8 L682.6 365.20000000000005 Q683.6 364.40000000000003 684.6 365.20000000000005 L687.9 368.8 L687.9 374.5 Q687.9 375.5 686.9 375.5 L680.3000000000001 375.5 Q679.3000000000001 375.5 679.3000000000001 374.5 Z" fill="#2a2a2a"/><circle cx="683.6" cy="367.40000000000003" r="1.2" fill="#9a9a9a"/><path d="M680.0 370.70000000000005 H687.2 M680.0 373.1 H687.2" stroke="#d8d8d8" stroke-width="0.9"/><path d="M681.3000000000001 376.3 H685.9 V378.3 H688.4 L683.6 386.8 L678.8000000000001 378.3 H681.3000000000001 Z" fill="#f7ad00"/>
<path d="M133.8 423.9 L141.1 431.7 L133.8 439.5 Z" fill="#ef7d00"/>
<text x="148.30" y="437.6" font-size="15.4" font-weight="bold" fill="#1a1a1a" stroke="#1a1a1a" stroke-width="0.2" text-anchor="start" textLength="298.90" lengthAdjust="spacingAndGlyphs">Short routes along the boom for fast reaction times</text>
<path d="M493.2 423.8 L501.1 431.8 L493.2 439.9 Z" fill="#ef7d00"/>
<text x="508.20" y="437.6" font-size="15.4" font-weight="bold" fill="#1a1a1a" stroke="#1a1a1a" stroke-width="0.2" text-anchor="start" textLength="248.70" lengthAdjust="spacingAndGlyphs">Reaction distance in the field approx. 30 m</text>
</svg></body></html>
